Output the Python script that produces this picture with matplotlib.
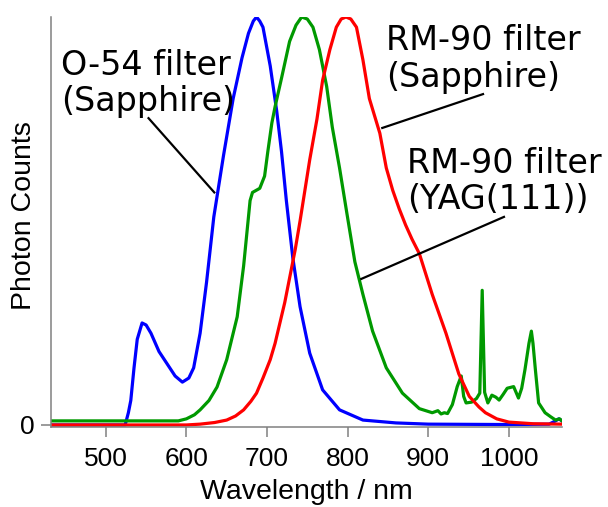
import matplotlib
matplotlib.use("Agg")
import matplotlib.pyplot as plt

plt.rcParams['font.family'] = ['Liberation Sans', 'DejaVu Sans']

blue_nm = [432, 500, 524, 528, 531, 535, 539, 545, 550, 556, 566, 576, 586, 595, 603, 609, 617,
           625, 634, 646, 658, 669, 677, 683, 687, 691, 695, 704, 712, 718, 724, 732, 741, 753,
           769, 790, 819, 860, 900, 1000, 1050, 1058, 1062, 1066]
blue_val = [0.0, 0.0, 0.0, 0.03, 0.06, 0.14, 0.21, 0.25, 0.245, 0.225, 0.18, 0.15, 0.12, 0.105,
            0.115, 0.14, 0.225, 0.35, 0.51, 0.66, 0.80, 0.90, 0.96, 0.99, 1.0, 0.99, 0.975, 0.88,
            0.77, 0.67, 0.55, 0.41, 0.29, 0.176, 0.086, 0.037, 0.012, 0.005, 0.002, 0.001, 0.002,
            0.01, 0.015, 0.01]

green_nm = [432, 500, 560, 590, 600, 610, 617, 628, 638, 650, 663, 671, 677, 679, 682, 691, 697,
            701, 706, 710, 718, 728, 736, 743, 750, 757, 765, 774, 781, 790, 799, 809, 819, 831,
            848, 868, 889, 905, 912, 916, 920, 924, 930, 936, 941, 944, 947, 954, 960, 964, 967,
            970, 974, 979, 984, 988, 993, 998, 1006, 1012, 1016, 1020, 1025, 1028, 1030, 1033,
            1037, 1045, 1052, 1058, 1063, 1066]
green_val = [0.01, 0.01, 0.01, 0.01, 0.015, 0.025, 0.037, 0.06, 0.093, 0.16, 0.265, 0.39, 0.51,
             0.55, 0.57, 0.58, 0.61, 0.67, 0.74, 0.78, 0.85, 0.94, 0.98, 1.0, 0.995, 0.975, 0.92,
             0.83, 0.73, 0.63, 0.52, 0.40, 0.32, 0.23, 0.14, 0.078, 0.04, 0.03, 0.035, 0.027,
             0.03, 0.028, 0.05, 0.094, 0.12, 0.07, 0.054, 0.056, 0.065, 0.078, 0.33, 0.08, 0.054,
             0.073, 0.068, 0.061, 0.075, 0.09, 0.094, 0.066, 0.09, 0.135, 0.2, 0.23, 0.2, 0.135,
             0.054, 0.03, 0.02, 0.012, 0.015, 0.01]

red_nm = [432, 600, 617, 635, 650, 661, 671, 680, 687, 695, 704, 710, 716, 722, 728, 735, 741,
          753, 762, 769, 778, 786, 792, 798, 804, 811, 819, 827, 840, 848, 856, 864, 872, 880,
          889, 905, 922, 938, 951, 963, 971, 985, 1000, 1030, 1066]
red_val = [0.0, 0.0, 0.002, 0.006, 0.012, 0.022, 0.037, 0.058, 0.078, 0.115, 0.16, 0.2, 0.25,
           0.3, 0.36, 0.43, 0.50, 0.65, 0.75, 0.845, 0.92, 0.975, 0.995, 1.0, 0.995, 0.975, 0.895,
           0.80, 0.715, 0.63, 0.575, 0.53, 0.49, 0.455, 0.42, 0.32, 0.225, 0.125, 0.07, 0.044,
           0.03, 0.015, 0.007, 0.003, 0.002]

x_ticks = [500, 600, 700, 800, 900, 1000]
label_lines = [("O-54 filter", "(Sapphire)"),
               ("RM-90 filter", "(Sapphire)"),
               ("RM-90 filter", "(YAG(111))")]

W, H = 608, 507
fig = plt.figure(figsize=(W / 100, H / 100), dpi=100)
L, R, T, B = 51, 562, 17, 427
ax = fig.add_axes([L / W, (H - B) / H, (R - L) / W, (B - T) / H])

lw = 2.3
ax.plot(blue_nm, blue_val, color='#0000ff', lw=lw, solid_joinstyle='round')
ax.plot(green_nm, green_val, color='#009900', lw=lw, solid_joinstyle='round')
ax.plot(red_nm, red_val, color='#ff0000', lw=lw, solid_joinstyle='round')

ax.set_xlim(432, 1066)
ax.set_ylim(-0.005, 1.0)
ax.set_xticks(x_ticks)
ax.set_yticks([0])
ax.tick_params(axis='both', labelsize=19, color='#808080', length=7.5, width=1.1)
ax.tick_params(axis='x', pad=7)
ax.tick_params(axis='y', pad=4)
for s in ['top', 'right']:
    ax.spines[s].set_visible(False)
for s in ['left', 'bottom']:
    ax.spines[s].set_color('#808080')
    ax.spines[s].set_linewidth(1.1)

ax.set_xlabel("Wavelength / nm", fontsize=20.5)
ax.xaxis.set_label_coords(0.5, -0.127)
ax.set_ylabel("Photon Counts", fontsize=20.5)
ax.yaxis.set_label_coords(-0.027, 0.515)

# annotation texts (pixel positions of left edge and baselines)
ann_pos = [(61, 75, 111), (386, 50, 87), (407, 173, 209)]
for (l1, l2), (px, b1, b2) in zip(label_lines, ann_pos):
    fig.text(px / W, 1 - b1 / H, l1, fontsize=24, family='DejaVu Sans', va='baseline', ha='left')
    fig.text(px / W, 1 - b2 / H, l2, fontsize=24, family='DejaVu Sans', va='baseline', ha='left')

# leader lines
ax.plot([553, 634.6], [0.752, 0.57], color='black', lw=1.6)
ax.plot([968, 843], [0.811, 0.728], color='black', lw=1.6)
ax.plot([994, 817], [0.51, 0.358], color='black', lw=1.6)

fig.savefig("out.png", dpi=100)
